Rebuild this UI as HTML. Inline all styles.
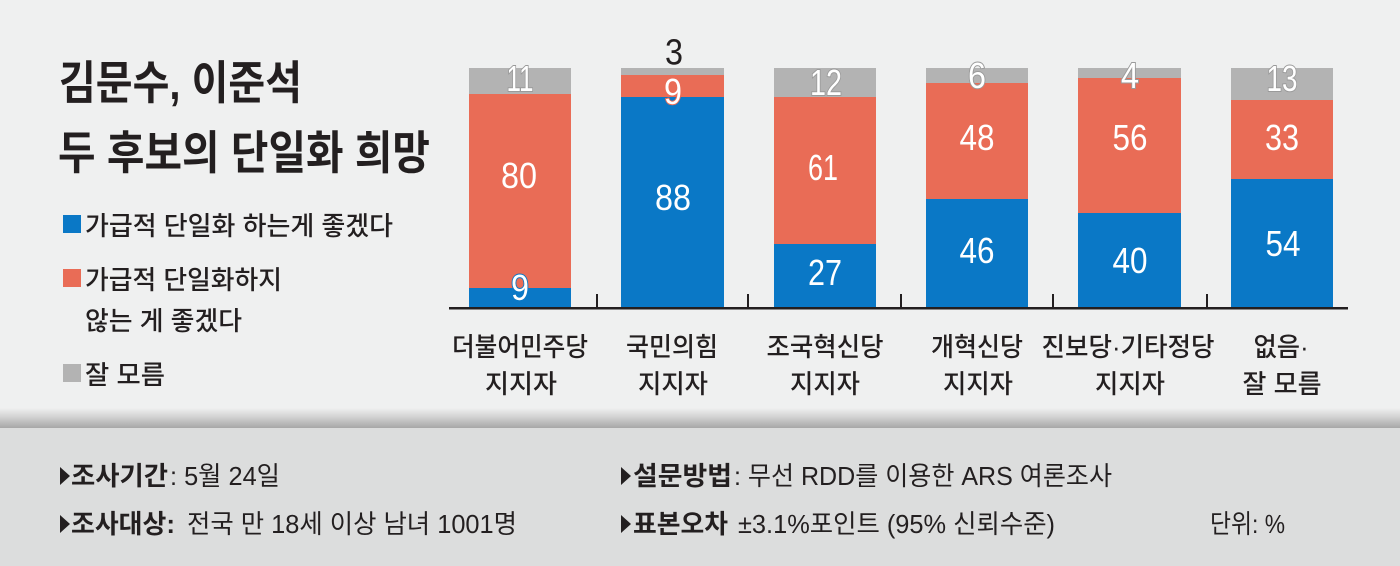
<!DOCTYPE html>
<html>
<head>
<meta charset="utf-8">
<style>
  html,body{margin:0;padding:0;background:#eff0f0;}
  svg{display:block;}
  .k{font-family:"Liberation Sans","Noto Sans CJK KR",sans-serif;fill:#231f20;}
  .m{font-weight:500;}
  .n{font-family:"Liberation Sans",sans-serif;font-size:36px;fill:#ffffff;text-anchor:middle;}
</style>
</head>
<body>
<svg width="1400" height="566" viewBox="0 0 1400 566" xmlns="http://www.w3.org/2000/svg">
  <defs>
    <linearGradient id="g" x1="0" y1="0" x2="0" y2="1">
      <stop offset="0" stop-color="#eff0f0"/>
      <stop offset="0.45" stop-color="#d2d2d2"/>
      <stop offset="1" stop-color="#a7a7a7"/>
    </linearGradient>
  </defs>
  <rect x="0" y="0" width="1400" height="566" fill="#eff0f0"/>
  <rect x="0" y="408" width="1400" height="20" fill="url(#g)"/>
  <rect x="0" y="428" width="1400" height="138" fill="#dcdddd"/>

  <!-- Title -->
  <text class="k" x="59" y="99" font-size="46" font-weight="700" textLength="243" lengthAdjust="spacingAndGlyphs">김문수, 이준석</text>
  <text class="k" x="58" y="169" font-size="46" font-weight="700" textLength="372" lengthAdjust="spacingAndGlyphs">두 후보의 단일화 희망</text>

  <!-- Legend -->
  <rect x="63" y="215" width="18" height="18" fill="#0a78c6"/>
  <text class="k m" x="85" y="235" font-size="26" textLength="308" lengthAdjust="spacingAndGlyphs">가급적 단일화 하는게 좋겠다</text>
  <rect x="63" y="269" width="18" height="18" fill="#e96c56"/>
  <text class="k m" x="85" y="289" font-size="26" textLength="197" lengthAdjust="spacingAndGlyphs">가급적 단일화하지</text>
  <text class="k m" x="85" y="330" font-size="26" textLength="157" lengthAdjust="spacingAndGlyphs">않는 게 좋겠다</text>
  <rect x="63" y="364" width="18" height="18" fill="#b3b3b3"/>
  <text class="k m" x="85" y="384" font-size="26" textLength="80" lengthAdjust="spacingAndGlyphs">잘 모름</text>

  <!-- Bars -->
  <rect x="469" y="68" width="102" height="26" fill="#b3b3b3"/>
  <rect x="469" y="94" width="102" height="194" fill="#e96c56"/>
  <rect x="469" y="288" width="102" height="20" fill="#0a78c6"/>

  <rect x="621" y="68" width="103" height="7" fill="#b3b3b3"/>
  <rect x="621" y="75" width="103" height="22" fill="#e96c56"/>
  <rect x="621" y="97" width="103" height="211" fill="#0a78c6"/>

  <rect x="774" y="68" width="102" height="29" fill="#b3b3b3"/>
  <rect x="774" y="97" width="102" height="147" fill="#e96c56"/>
  <rect x="774" y="244" width="102" height="64" fill="#0a78c6"/>

  <rect x="926" y="68" width="102" height="15" fill="#b3b3b3"/>
  <rect x="926" y="83" width="102" height="116" fill="#e96c56"/>
  <rect x="926" y="199" width="102" height="109" fill="#0a78c6"/>

  <rect x="1078" y="68" width="103" height="10" fill="#b3b3b3"/>
  <rect x="1078" y="78" width="103" height="135" fill="#e96c56"/>
  <rect x="1078" y="213" width="103" height="95" fill="#0a78c6"/>

  <rect x="1231" y="68" width="102" height="32" fill="#b3b3b3"/>
  <rect x="1231" y="100" width="102" height="79" fill="#e96c56"/>
  <rect x="1231" y="179" width="102" height="129" fill="#0a78c6"/>

  <!-- Axis -->
  <rect x="449" y="307" width="899" height="2.5" fill="#231f20"/>
  <rect x="596" y="294" width="2" height="14" fill="#231f20"/>
  <rect x="747" y="294" width="2" height="14" fill="#231f20"/>
  <rect x="900" y="294" width="2" height="14" fill="#231f20"/>
  <rect x="1052" y="294" width="2" height="14" fill="#231f20"/>
  <rect x="1206" y="294" width="2" height="14" fill="#231f20"/>

  <!-- Value labels -->
  <g class="n">
    <text x="520" y="91" textLength="27" lengthAdjust="spacingAndGlyphs" stroke="#9a9a9a" stroke-width="2" paint-order="stroke">11</text>
    <text x="519" y="188" textLength="36" lengthAdjust="spacingAndGlyphs">80</text>
    <text x="520" y="300" textLength="18" lengthAdjust="spacingAndGlyphs" stroke="#0a78c6" stroke-width="2" paint-order="stroke">9</text>

    <text x="674" y="64.5" textLength="18" lengthAdjust="spacingAndGlyphs" style="fill:#231f20">3</text>
    <text x="673" y="104" textLength="18" lengthAdjust="spacingAndGlyphs" stroke="#e96c56" stroke-width="2" paint-order="stroke">9</text>
    <text x="673" y="210" textLength="36" lengthAdjust="spacingAndGlyphs">88</text>

    <text x="826" y="95" textLength="32" lengthAdjust="spacingAndGlyphs" stroke="#9a9a9a" stroke-width="2" paint-order="stroke">12</text>
    <text x="823" y="180" textLength="30" lengthAdjust="spacingAndGlyphs">61</text>
    <text x="825" y="285" textLength="34" lengthAdjust="spacingAndGlyphs">27</text>

    <text x="977" y="88" textLength="18" lengthAdjust="spacingAndGlyphs" stroke="#9a9a9a" stroke-width="2" paint-order="stroke">6</text>
    <text x="977" y="150" textLength="35" lengthAdjust="spacingAndGlyphs">48</text>
    <text x="977" y="263" textLength="35" lengthAdjust="spacingAndGlyphs">46</text>

    <text x="1130" y="88" textLength="18" lengthAdjust="spacingAndGlyphs" stroke="#9a9a9a" stroke-width="2" paint-order="stroke">4</text>
    <text x="1130" y="150" textLength="35" lengthAdjust="spacingAndGlyphs">56</text>
    <text x="1130" y="273" textLength="35" lengthAdjust="spacingAndGlyphs">40</text>

    <text x="1282" y="91" textLength="31" lengthAdjust="spacingAndGlyphs" stroke="#9a9a9a" stroke-width="2" paint-order="stroke">13</text>
    <text x="1282" y="150" textLength="34" lengthAdjust="spacingAndGlyphs">33</text>
    <text x="1283" y="256" textLength="35" lengthAdjust="spacingAndGlyphs">54</text>
  </g>

  <!-- Category labels -->
  <g class="k m" font-size="26" text-anchor="middle">
    <text x="520" y="356" textLength="136" lengthAdjust="spacingAndGlyphs">더불어민주당</text>
    <text x="521" y="393" textLength="72" lengthAdjust="spacingAndGlyphs">지지자</text>
    <text x="672" y="356" textLength="92" lengthAdjust="spacingAndGlyphs">국민의힘</text>
    <text x="673" y="393" textLength="70" lengthAdjust="spacingAndGlyphs">지지자</text>
    <text x="825" y="356" textLength="117" lengthAdjust="spacingAndGlyphs">조국혁신당</text>
    <text x="825" y="393" textLength="70" lengthAdjust="spacingAndGlyphs">지지자</text>
    <text x="977" y="356" textLength="92" lengthAdjust="spacingAndGlyphs">개혁신당</text>
    <text x="978" y="393" textLength="70" lengthAdjust="spacingAndGlyphs">지지자</text>
    <text x="1128" y="356" textLength="173" lengthAdjust="spacingAndGlyphs">진보당·기타정당</text>
    <text x="1130" y="393" textLength="70" lengthAdjust="spacingAndGlyphs">지지자</text>
    <text x="1281" y="356" textLength="55" lengthAdjust="spacingAndGlyphs">없음·</text>
    <text x="1282" y="393" textLength="79" lengthAdjust="spacingAndGlyphs">잘 모름</text>
  </g>

  <!-- Footer -->
  <polygon points="60,467 70,476 60,485" fill="#231f20"/>
  <text class="k" x="71" y="485" font-size="26" font-weight="700" textLength="97" lengthAdjust="spacingAndGlyphs">조사기간</text>
  <text class="k" x="170" y="485" font-size="26" textLength="110" lengthAdjust="spacingAndGlyphs">: 5월 24일</text>

  <polygon points="60,515 70,524 60,533" fill="#231f20"/>
  <text class="k" x="71" y="533" font-size="26" font-weight="700" textLength="104" lengthAdjust="spacingAndGlyphs">조사대상:</text>
  <text class="k" x="187" y="533" font-size="26" textLength="330" lengthAdjust="spacingAndGlyphs">전국 만 18세 이상 남녀 1001명</text>

  <polygon points="621,467 631,476 621,485" fill="#231f20"/>
  <text class="k" x="633" y="485" font-size="26" font-weight="700" textLength="99" lengthAdjust="spacingAndGlyphs">설문방법</text>
  <text class="k" x="734" y="485" font-size="26" textLength="378" lengthAdjust="spacingAndGlyphs">: 무선 RDD를 이용한 ARS 여론조사</text>

  <polygon points="621,515 631,524 621,533" fill="#231f20"/>
  <text class="k" x="633" y="533" font-size="26" font-weight="700" textLength="95" lengthAdjust="spacingAndGlyphs">표본오차</text>
  <text class="k" x="738" y="533" font-size="26" textLength="317" lengthAdjust="spacingAndGlyphs">±3.1%포인트 (95% 신뢰수준)</text>

  <text class="k" x="1210" y="533" font-size="26" textLength="75" lengthAdjust="spacingAndGlyphs">단위: %</text>
</svg>
</body>
</html>
